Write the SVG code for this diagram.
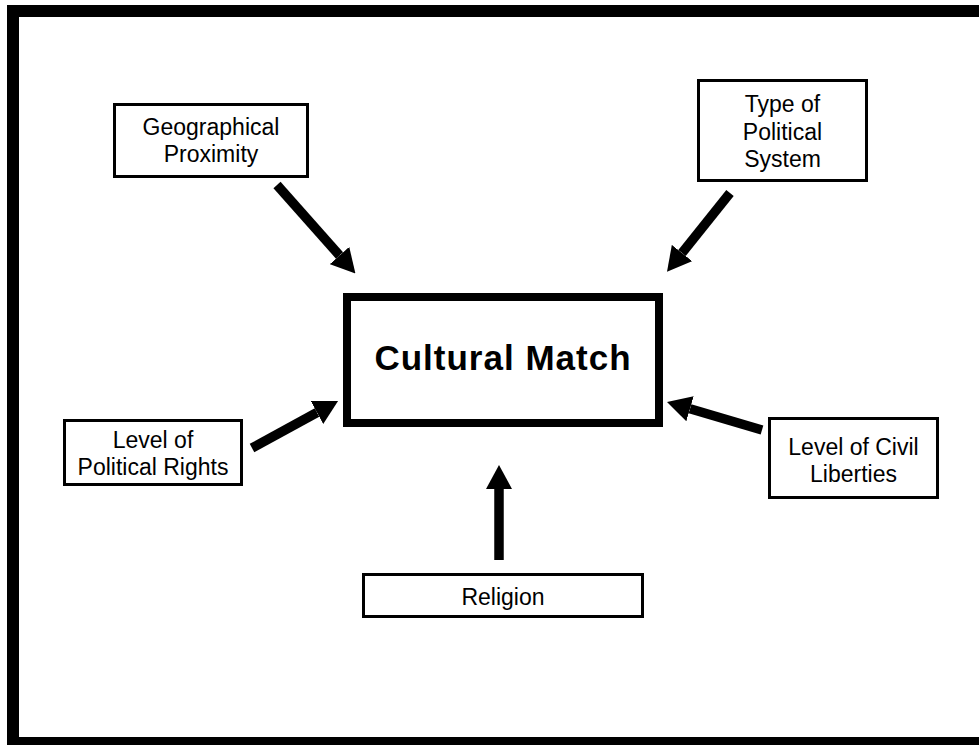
<svg xmlns="http://www.w3.org/2000/svg" width="979" height="745" viewBox="0 0 979 745">
  <style>
    .frame { fill: none; stroke: #000; stroke-width: 12; }
    .box { fill: #fff; stroke: #000; stroke-width: 3; }
    .main { fill: #fff; stroke: #000; stroke-width: 8; }
    .lbl { font-family: "Liberation Sans", Arial, sans-serif; font-size: 23px; fill: #000; text-anchor: middle; }
    .title { font-family: "Liberation Sans", Arial, sans-serif; font-size: 35px; font-weight: bold; letter-spacing: 1px; fill: #000; text-anchor: middle; }
    .arrow { fill: none; stroke: #000; stroke-width: 9.5; marker-end: url(#head); }
  </style>
  <defs>
    <marker id="head" markerUnits="userSpaceOnUse" markerWidth="24" markerHeight="26" refX="0" refY="13" orient="auto" viewBox="0 0 24 26">
      <path d="M0,0 L24,13 L0,26 z" fill="#000"/>
    </marker>
  </defs>

  <rect width="979" height="745" fill="#fff"/>
  <!-- outer frame -->
  <rect class="frame" x="13" y="11" width="985" height="732"/>

  <!-- connectors -->
  <g id="connectors">
    <line class="arrow" x1="277" y1="185" x2="339.5" y2="255.5"/>
    <line class="arrow" x1="730" y1="193" x2="682" y2="253"/>
    <line class="arrow" x1="252" y1="448" x2="317" y2="412.5"/>
    <line class="arrow" x1="762" y1="430" x2="690" y2="408.8"/>
    <line class="arrow" x1="499" y1="560" x2="499" y2="489"/>
  </g>

  <g id="cultural-match">
    <rect class="main" x="347" y="297" width="312" height="126"/>
    <text class="title" x="503" y="370">Cultural Match</text>
  </g>

  <g id="geographical-proximity">
    <rect class="box" x="114.5" y="104.5" width="193" height="72"/>
    <text class="lbl" x="211" y="135">Geographical</text>
    <text class="lbl" x="211" y="162">Proximity</text>
  </g>

  <g id="political-system">
    <rect class="box" x="698.5" y="80.5" width="168" height="100"/>
    <text class="lbl" x="782.5" y="112">Type of</text>
    <text class="lbl" x="782.5" y="140">Political</text>
    <text class="lbl" x="782.5" y="167">System</text>
  </g>

  <g id="political-rights">
    <rect class="box" x="64.5" y="420.5" width="177" height="64"/>
    <text class="lbl" x="153" y="448">Level of</text>
    <text class="lbl" x="153" y="475">Political Rights</text>
  </g>

  <g id="civil-liberties">
    <rect class="box" x="769.5" y="418.5" width="168" height="79"/>
    <text class="lbl" x="853.5" y="455">Level of Civil</text>
    <text class="lbl" x="853.5" y="482">Liberties</text>
  </g>

  <g id="religion">
    <rect class="box" x="363.5" y="574.5" width="279" height="42"/>
    <text class="lbl" x="503" y="605">Religion</text>
  </g>
</svg>
